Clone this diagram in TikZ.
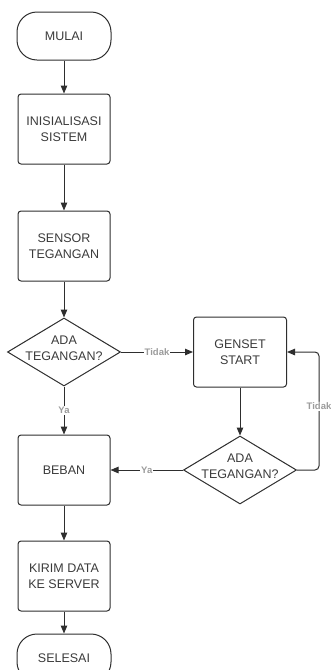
\documentclass[tikz,border=0pt]{standalone}
\usepackage{fontspec}
\setmainfont{Liberation Sans}
\usetikzlibrary{arrows.meta, positioning, shapes.geometric}
\definecolor{chartline}{HTML}{2E2E2E}
\definecolor{charttext}{HTML}{3A3A3A}
\definecolor{chartlbl}{HTML}{9C9C9C}
\tikzset{
  >={Triangle[length=8pt, width=6.5pt]},
  txt/.style={align=center, text=charttext, font=\fontsize{12.5}{16}\selectfont},
  base/.style={txt, draw=chartline, line width=1pt},
  term/.style={base, rectangle, rounded corners=20pt, minimum width=94pt, minimum height=48pt},
  proc/.style={base, rectangle, rounded corners=3pt, minimum width=92pt, minimum height=70pt},
  decision/.style={base, diamond, minimum width=113pt, minimum height=68pt, inner sep=0pt,
                   label={[txt, yshift=4pt]center:#1}},
  flow/.style={->, draw=chartline, line width=1pt},
  lbl/.style={font=\fontsize{9.5}{11}\selectfont\bfseries, text=chartlbl, fill=white, inner sep=1pt},
}

\begin{document}
\begin{tikzpicture}
  \useasboundingbox (0,0) rectangle (330pt,-670pt);
  % main column
  \node[term] (mulai) at (64pt,-36pt) {MULAI};
  \node[proc, below=33pt of mulai] (init) {INISIALISASI\\SISTEM};
  \node[proc, below=46pt of init] (sensor) {SENSOR\\TEGANGAN};
  \node[decision={ADA\\TEGANGAN?}, below=36pt of sensor] (cek1) {};
  \node[proc, below=48pt of cek1] (beban) {BEBAN};
  \node[proc, below=35pt of beban] (kirim) {KIRIM DATA\\KE SERVER};
  \node[term, below=22pt of kirim] (selesai) {SELESAI};
  % genset branch
  \node[proc, minimum width=93pt, right=72pt of cek1] (genset) {GENSET\\START};
  \node[decision={ADA\\TEGANGAN?}, below=48pt of genset] (cek2) {};

  \draw[flow] (mulai) -- (init);
  \draw[flow] (init) -- (sensor);
  \draw[flow] (sensor) -- (cek1);
  \draw[flow] (cek1) -- node[lbl] {Ya} (beban);
  \draw[flow] (beban) -- (kirim);
  \draw[flow] (kirim) -- (selesai);
  \draw[flow] (cek1.east) -- node[lbl] {Tidak} (genset.west);
  \draw[flow] (genset) -- (cek2);
  \draw[flow] (cek2.west) -- node[lbl] {Ya} (beban.east);
  \draw[flow, rounded corners=4pt] (cek2.east) -- ++(22pt,0) |- node[lbl, pos=0.27] {Tidak} (genset.east);
\end{tikzpicture}
\end{document}
